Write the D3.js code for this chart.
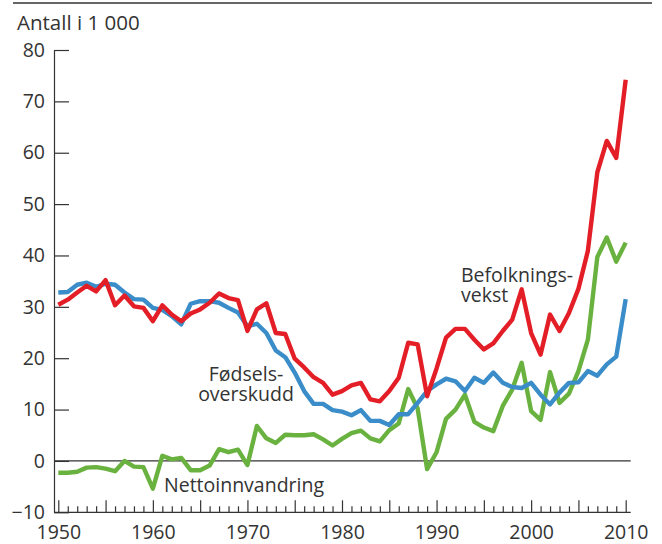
<!DOCTYPE html>
<html>
<head>
<meta charset="utf-8">
<script src="https://cdn.jsdelivr.net/npm/d3@7"></script>
<style>
  body { margin: 0; background: #fff; }
  svg text { font-family: "Open Sans", sans-serif; fill: #333; }
</style>
</head>
<body>
<div id="chart"></div>
<script>
var years = d3.range(1950, 2011);

// Befolkningsvekst (rød)
var befolkningsvekst = [
  30.4, 31.4, 32.8, 34.1, 33.0, 35.2, 30.3, 32.2, 30.1, 29.8,
  27.2, 30.3, 28.5, 27.2, 28.7, 29.5, 30.8, 32.6, 31.7, 31.3,
  25.3, 29.5, 30.7, 24.9, 24.7, 19.9, 18.2, 16.3, 15.2, 12.9,
  13.6, 14.7, 15.2, 12.0, 11.6, 13.6, 16.2, 23.0, 22.7, 12.6,
  18.0, 24.0, 25.7, 25.7, 23.6, 21.7, 22.9, 25.3, 27.5, 33.4,
  24.9, 20.7, 28.5, 25.3, 28.8, 33.5, 40.9, 56.2, 62.3, 59.0,
  74.2
];

// Fødselsoverskudd (blå)
var fodselsoverskudd = [
  32.8, 32.9, 34.3, 34.7, 33.9, 34.5, 34.3, 32.8, 31.5, 31.4,
  29.8, 29.4, 28.2, 26.6, 30.6, 31.1, 31.1, 30.8, 29.8, 28.9,
  26.2, 26.7, 24.9, 21.5, 20.2, 17.2, 13.6, 11.1, 11.1, 9.9,
  9.6, 8.9, 9.9, 7.8, 7.8, 7.0, 9.1, 9.1, 11.3, 13.6,
  14.9, 16.0, 15.5, 13.6, 16.2, 15.2, 17.2, 15.2, 14.4, 14.2,
  15.2, 12.9, 11.0, 13.3, 15.2, 15.3, 17.5, 16.6, 18.8, 20.3,
  31.5
];

// Nettoinnvandring (grønn)
var nettoinnvandring = [
  -2.3, -2.3, -2.1, -1.3, -1.2, -1.5, -2.0, 0.0, -1.1, -1.2,
  -5.4, 1.0, 0.3, 0.6, -1.8, -1.8, -0.9, 2.3, 1.7, 2.2,
  -0.8, 6.8, 4.4, 3.5, 5.1, 5.0, 5.0, 5.2, 4.2, 3.0,
  4.3, 5.4, 5.9, 4.4, 3.8, 6.0, 7.3, 14.0, 10.2, -1.6,
  1.7, 8.2, 10.0, 12.9, 7.6, 6.5, 5.8, 10.7, 13.9, 19.1,
  9.7, 8.0, 17.3, 11.3, 13.1, 17.5, 23.6, 39.7, 43.5, 38.8,
  42.5
];

var yTicks = [-10, 0, 10, 20, 30, 40, 50, 60, 70, 80];

var W = 662, H = 544;
var svg = d3.select("#chart").append("svg")
    .attr("width", W)
    .attr("height", H);

var x = d3.scaleLinear().domain([1950, 2010]).range([58.3, 625.7]);
var y = d3.scaleLinear().domain([-10, 80]).range([512.3, 50]);
var axisLeft = 54, axisRight = 630.7;

// top rule
svg.append("line")
    .attr("x1", 13).attr("x2", 652)
    .attr("y1", 3).attr("y2", 3)
    .attr("stroke", "#333").attr("stroke-width", 1.5);

svg.append("text")
    .attr("x", 17).attr("y", 30)
    .style("font-size", "20.5px")
    .text("Antall i 1 000");

// y axis
var gy = svg.append("g")
    .attr("transform", "translate(" + axisLeft + ",0)")
    .call(d3.axisLeft(y).tickValues(yTicks).tickSizeInner(-15).tickSizeOuter(0).tickPadding(9));
gy.select(".domain").attr("stroke", "#333").attr("stroke-width", 1.2);
gy.selectAll(".tick line").attr("stroke", "#333").attr("stroke-width", 1.2);
gy.selectAll(".tick text").style("font-size", "19.5px").attr("fill", "#333").attr("font-family", null);

// x axis: ticks each year, longer every 5th, labels every 10th
var gx = svg.append("g")
    .attr("transform", "translate(0," + y(-10) + ")")
    .call(d3.axisBottom(x).tickValues(years).tickSize(-6).tickPadding(13)
      .tickFormat(function(d){ return d % 10 === 0 ? d : ""; }));
gx.select(".domain").remove();
gx.selectAll(".tick line")
    .attr("stroke", "#333").attr("stroke-width", 1.2)
    .attr("y2", function(d){ return d % 5 === 0 ? -12 : -6; });
gx.selectAll(".tick text").style("font-size", "19.5px").attr("fill", "#333").attr("font-family", null);

svg.append("line")
    .attr("x1", axisLeft).attr("x2", axisRight)
    .attr("y1", y(-10)).attr("y2", y(-10))
    .attr("stroke", "#333").attr("stroke-width", 1.2);

// zero line
svg.append("line")
    .attr("x1", axisLeft).attr("x2", axisRight)
    .attr("y1", y(0)).attr("y2", y(0))
    .attr("stroke", "#333").attr("stroke-width", 1.2);

var line = d3.line()
    .x(function(d, i){ return x(years[i]); })
    .y(function(d){ return y(d); });

var series = [
  {values: nettoinnvandring, color: "#6ab23f"},
  {values: fodselsoverskudd, color: "#3a8dc9"},
  {values: befolkningsvekst, color: "#e31e26"}
];

for (var s of series) {
  svg.append("path")
      .attr("d", line(s.values))
      .attr("fill", "none")
      .attr("stroke", s.color)
      .attr("stroke-width", 4.4)
      .attr("stroke-linejoin", "round")
      .attr("stroke-linecap", "butt");
}

// labels
var lab = svg.append("g").style("font-size", "19.5px");
lab.append("text").attr("x", 246).attr("y", 380.5).attr("text-anchor", "middle").text("Fødsels-");
lab.append("text").attr("x", 246).attr("y", 400.5).attr("text-anchor", "middle").text("overskudd");
lab.append("text").attr("x", 461).attr("y", 281.5).text("Befolknings-");
lab.append("text").attr("x", 461).attr("y", 302).text("vekst");
lab.append("text").attr("x", 164).attr("y", 491.5).text("Nettoinnvandring");
</script>
</body>
</html>
